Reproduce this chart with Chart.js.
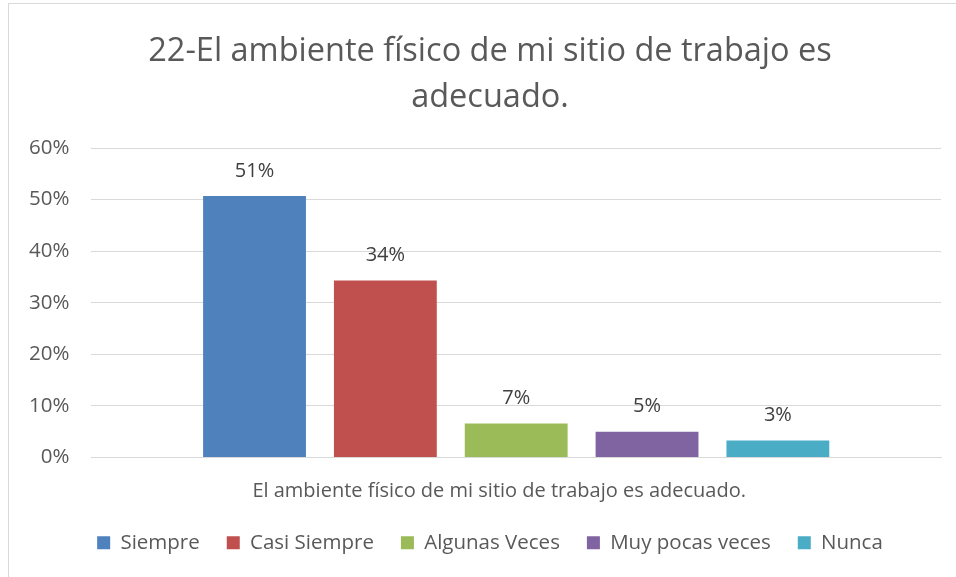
<!DOCTYPE html>
<html>
<head>
<meta charset="utf-8">
<script src="https://cdn.jsdelivr.net/npm/chart.js@4"></script>
<style>
  body { margin: 0; background: #fff; }
  #wrap { position: relative; width: 956px; height: 577px; overflow: hidden; }
  #marco { position: absolute; left: 8px; top: 3px; width: 960px; height: 590px; border: 1px solid #d9d9d9; pointer-events: none; }
</style>
</head>
<body>
<div id="wrap">
  <canvas id="grafico" width="956" height="577"></canvas>
  <div id="marco"></div>
</div>
<script>
const categorias = ['El ambiente físico de mi sitio de trabajo es adecuado.'];
const respuestas = ['Siempre', 'Casi Siempre', 'Algunas Veces', 'Muy pocas veces', 'Nunca'];
const porcentajes = [50.7, 34.3, 6.6, 5.0, 3.3];
const colores = ['#4f81bd', '#c0504d', '#9bbb59', '#8064a2', '#4bacc6'];
const ticksY = [0, 10, 20, 30, 40, 50, 60];

const fuente = "'Open Sans', sans-serif";

// etiquetas encima de cada barra
const etiquetas = {
    id: 'etiquetas',
    afterLayout(chart) {
        // el eje y es mas angosto que el margen: que no recorte sus textos
        chart.scales.y.left = 0;
    },
    afterDatasetsDraw(chart) {
        const ctx = chart.ctx;
        ctx.save();
        ctx.font = '20px ' + fuente;
        ctx.fillStyle = '#404040';
        ctx.textAlign = 'center';
        ctx.textBaseline = 'middle';
        chart.data.datasets.forEach((ds, i) => {
            chart.getDatasetMeta(i).data.forEach((bar, j) => {
                ctx.fillText(Math.round(ds.data[j]) + '%', bar.x, bar.y - 25);
            });
        });
        ctx.restore();
    }
};

const ctx = document.getElementById('grafico').getContext('2d');

const grafico = new Chart(ctx, {
    type: 'bar',
    data: {
        labels: categorias,
        datasets: respuestas.map((r, i) => ({
            label: r,
            data: [porcentajes[i]],
            backgroundColor: colores[i],
            categoryPercentage: 0.77,
            barPercentage: 0.786
        }))
    },
    options: {
        responsive: false,
        animation: false,
        layout: { padding: { left: 39, right: 15, top: 0, bottom: 14 } },
        plugins: {
            title: {
                display: true,
                text: ['22-El ambiente físico de mi sitio de trabajo es', 'adecuado.'],
                color: '#595959',
                font: { family: fuente, size: 32.5, weight: 'normal', lineHeight: 1.4 },
                padding: { top: 29, bottom: 28 }
            },
            legend: {
                position: 'bottom',
                labels: {
                    color: '#595959',
                    font: { family: fuente, size: 20.5 },
                    boxWidth: 13,
                    boxHeight: 13,
                    padding: 27
                }
            },
            tooltip: { enabled: false }
        },
        scales: {
            x: {
                grid: { display: false },
                border: { color: '#d9d9d9' },
                ticks: { color: '#595959', font: { family: fuente, size: 20 }, padding: 14, labelOffset: -17 },
                afterFit: (scale) => { scale.height -= 12; }
            },
            y: {
                min: 0,
                max: 60,
                afterBuildTicks: (axis) => { axis.ticks = ticksY.map(v => ({ value: v })); },
                afterFit: (scale) => { scale.width -= 32; },
                grid: { color: '#d9d9d9', lineWidth: 1, drawTicks: false },
                border: { display: false },
                ticks: {
                    color: '#595959',
                    font: { family: fuente, size: 20.5 },
                    padding: 22,
                    callback: (v) => v + '%'
                }
            }
        }
    },
    plugins: [etiquetas]
});
</script>
</body>
</html>
